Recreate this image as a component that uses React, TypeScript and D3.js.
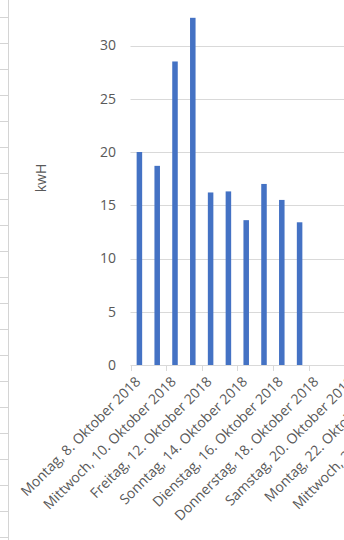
import React from "react";
import * as d3 from "d3";

const dates = [
  "Montag, 8. Oktober 2018",
  "Dienstag, 9. Oktober 2018",
  "Mittwoch, 10. Oktober 2018",
  "Donnerstag, 11. Oktober 2018",
  "Freitag, 12. Oktober 2018",
  "Samstag, 13. Oktober 2018",
  "Sonntag, 14. Oktober 2018",
  "Montag, 15. Oktober 2018",
  "Dienstag, 16. Oktober 2018",
  "Mittwoch, 17. Oktober 2018",
  "Donnerstag, 18. Oktober 2018",
  "Freitag, 19. Oktober 2018",
  "Samstag, 20. Oktober 2018",
  "Sonntag, 21. Oktober 2018",
  "Montag, 22. Oktober 2018",
  "Dienstag, 23. Oktober 2018",
  "Mittwoch, 24. Oktober 2018",
  "Donnerstag, 25. Oktober 2018",
];

const values = [20.0, 18.7, 28.5, 32.6, 16.2, 16.3, 13.6, 17.0, 15.5, 13.4];

const yTicks = [0, 5, 10, 15, 20, 25, 30];

const yTitle = "kwH";

const W = 344;
const H = 540;
const FONT = "'Open Sans', sans-serif";
const TEXT = "#595959";
const GRID = "#d9d9d9";

export default function App() {
  const x0 = 130.5;
  const step = 17.8;
  const x = d3
    .scaleBand<string>()
    .domain(dates)
    .range([x0, x0 + step * dates.length]);
  const y = d3.scaleLinear().domain([0, 35]).range([365, 365 - 35 * 10.65]);
  const bw = x.bandwidth() * 0.31;

  const rows = d3.range(0, 21).map((i) => 17 + i * 26);

  return (
    <svg
      width={W}
      height={H}
      style={{ position: "absolute", left: 0, top: 0, background: "#fff" }}
    >
      {/* spreadsheet background */}
      {rows.map((ry, i) => (
        <line key={"r" + i} x1={0} x2={8.5} y1={ry + 0.5} y2={ry + 0.5} stroke="#d4d4d4" />
      ))}
      <line x1={8.5} x2={8.5} y1={0} y2={H} stroke="#d4d4d4" />

      {/* gridlines */}
      {yTicks.slice(1).map((t) => (
        <line
          key={"g" + t}
          x1={x0}
          x2={W}
          y1={Math.round(y(t)) + 0.5}
          y2={Math.round(y(t)) + 0.5}
          stroke={GRID}
          strokeWidth={1}
        />
      ))}

      {/* y tick labels */}
      {yTicks.map((t) => (
        <text
          key={"yl" + t}
          x={116}
          y={y(t)}
          dy="0.35em"
          textAnchor="end"
          fontFamily={FONT}
          fontSize={14}
          fill={TEXT}
        >
          {t}
        </text>
      ))}

      {/* y title */}
      <text
        transform={`translate(46,178) rotate(-90)`}
        textAnchor="middle"
        fontFamily={FONT}
        fontSize={14}
        fill={TEXT}
      >
        {yTitle}
      </text>

      {/* bars */}
      {values.map((v, i) => {
        const cx = (x(dates[i]) as number) + x.bandwidth() / 2;
        return (
          <rect
            key={"b" + i}
            x={cx - bw / 2}
            y={y(v)}
            width={bw}
            height={y(0) - y(v)}
            fill="#4472C4"
          />
        );
      })}

      {/* x axis */}
      <line x1={x0} x2={W} y1={365.5} y2={365.5} stroke={GRID} />
      {dates.map((d, i) =>
        i % 2 === 0 ? (
          <line
            key={"t" + i}
            x1={Math.round(x(d) as number) + 0.5}
            x2={Math.round(x(d) as number) + 0.5}
            y1={365}
            y2={371}
            stroke={GRID}
          />
        ) : null
      )}
      {dates.map((d, i) =>
        i % 2 === 0 ? (
          <text
            key={"xl" + i}
            transform={`translate(${(x(d) as number) + x.bandwidth() / 2 + 2},${382.5}) rotate(-45)`}
            textAnchor="end"
            fontFamily={FONT}
            fontSize={14}
            fill={TEXT}
          >
            {d}
          </text>
        ) : null
      )}
    </svg>
  );
}
